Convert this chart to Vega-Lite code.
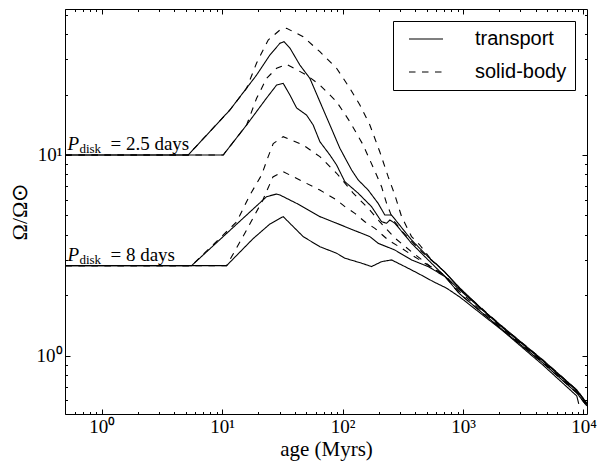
{
  "$schema": "https://vega.github.io/schema/vega-lite/v6.json",
  "width": 522,
  "height": 405,
  "autosize": {"type": "none"},
  "padding": {"left": 65, "top": 9, "right": 10, "bottom": 48},
  "background": "white",
  "config": {
    "view": {"stroke": null},
    "axis": {
      "grid": false,
      "domainColor": "black",
      "domainWidth": 1,
      "tickColor": "black",
      "tickWidth": 1,
      "labelFont": "Liberation Serif",
      "labelFontSize": 19,
      "labelColor": "black",
      "labelOverlap": false,
      "labelFlush": false,
      "labelBound": false,
      "titleFont": "Liberation Serif",
      "titleFontSize": 20,
      "titleFontWeight": "normal",
      "titleColor": "black"
    }
  },
  "datasets": {
    "curves": [
      {"c":"A","m":"transport","t":0.5,"w":10},{"c":"A","m":"transport","t":5.23,"w":10},{"c":"A","m":"transport","t":11.6,"w":16.76},{"c":"A","m":"transport","t":19.33,"w":25.03},{"c":"A","m":"transport","t":24.93,"w":31.5},{"c":"A","m":"transport","t":30.18,"w":36.03},{"c":"A","m":"transport","t":32.6,"w":36.7},{"c":"A","m":"transport","t":36.53,"w":34.13},{"c":"A","m":"transport","t":44.2,"w":28.08},{"c":"A","m":"transport","t":53.5,"w":24.11},{"c":"A","m":"transport","t":64.8,"w":18.44},{"c":"A","m":"transport","t":78.5,"w":14.11},{"c":"A","m":"transport","t":95,"w":10.8},{"c":"A","m":"transport","t":118.8,"w":8.42},{"c":"A","m":"transport","t":134.8,"w":7.51},{"c":"A","m":"transport","t":163.1,"w":6.69},{"c":"A","m":"transport","t":197.4,"w":5.74},{"c":"A","m":"transport","t":224.4,"w":5.02},{"c":"A","m":"transport","t":255,"w":5.02},{"c":"A","m":"transport","t":289.3,"w":4.57},{"c":"A","m":"transport","t":373.8,"w":3.77},{"c":"A","m":"transport","t":513.2,"w":3.11},{"c":"A","m":"transport","t":706.3,"w":2.61},{"c":"A","m":"transport","t":940,"w":2.175},{"c":"A","m":"transport","t":1460,"w":1.69},{"c":"A","m":"transport","t":2140,"w":1.39},{"c":"A","m":"transport","t":4595,"w":0.952},{"c":"A","m":"transport","t":8800,"w":0.675},{"c":"A","m":"transport","t":10650,"w":0.581},
      {"c":"B","m":"transport","t":0.5,"w":10},{"c":"B","m":"transport","t":10.21,"w":10},{"c":"B","m":"transport","t":15.97,"w":14.11},{"c":"B","m":"transport","t":23.4,"w":19.23},{"c":"B","m":"transport","t":28.34,"w":22.32},{"c":"B","m":"transport","t":32.14,"w":22.76},{"c":"B","m":"transport","t":36.53,"w":19.91},{"c":"B","m":"transport","t":41.53,"w":17.15},{"c":"B","m":"transport","t":50.2,"w":15.82},{"c":"B","m":"transport","t":57,"w":14.11},{"c":"B","m":"transport","t":64.8,"w":11.65},{"c":"B","m":"transport","t":78.5,"w":10},{"c":"B","m":"transport","t":89.2,"w":8.92},{"c":"B","m":"transport","t":104.5,"w":7.36},{"c":"B","m":"transport","t":134.8,"w":6.45},{"c":"B","m":"transport","t":174,"w":5.53},{"c":"B","m":"transport","t":210.8,"w":4.65},{"c":"B","m":"transport","t":232,"w":4.57},{"c":"B","m":"transport","t":247,"w":4.74},{"c":"B","m":"transport","t":271.7,"w":4.57},{"c":"B","m":"transport","t":373.8,"w":3.63},{"c":"B","m":"transport","t":513.2,"w":3.0},{"c":"B","m":"transport","t":663,"w":2.58},{"c":"B","m":"transport","t":940,"w":2.125},{"c":"B","m":"transport","t":2140,"w":1.374},{"c":"B","m":"transport","t":4595,"w":0.941},{"c":"B","m":"transport","t":8800,"w":0.668},{"c":"B","m":"transport","t":10650,"w":0.575},
      {"c":"C","m":"solid-body","t":0.5,"w":10},{"c":"C","m":"solid-body","t":5.23,"w":10},{"c":"C","m":"solid-body","t":11.6,"w":16.76},{"c":"C","m":"solid-body","t":15.97,"w":21.49},{"c":"C","m":"solid-body","t":19.33,"w":28.73},{"c":"C","m":"solid-body","t":24.13,"w":37.41},{"c":"C","m":"solid-body","t":30.18,"w":41.96},{"c":"C","m":"solid-body","t":34.3,"w":42.8},{"c":"C","m":"solid-body","t":47.1,"w":38.86},{"c":"C","m":"solid-body","t":64.8,"w":32.71},{"c":"C","m":"solid-body","t":89.2,"w":27.04},{"c":"C","m":"solid-body","t":115,"w":21.49},{"c":"C","m":"solid-body","t":139.2,"w":17.75},{"c":"C","m":"solid-body","t":168.5,"w":14.11},{"c":"C","m":"solid-body","t":204,"w":10.35},{"c":"C","m":"solid-body","t":239,"w":7.8},{"c":"C","m":"solid-body","t":271.7,"w":6.32},{"c":"C","m":"solid-body","t":309,"w":4.93},{"c":"C","m":"solid-body","t":373.8,"w":3.92},{"c":"C","m":"solid-body","t":438,"w":3.56},{"c":"C","m":"solid-body","t":530,"w":3.07},{"c":"C","m":"solid-body","t":706,"w":2.61},{"c":"C","m":"solid-body","t":940,"w":2.15},{"c":"C","m":"solid-body","t":2140,"w":1.39},{"c":"C","m":"solid-body","t":4595,"w":0.952},{"c":"C","m":"solid-body","t":8800,"w":0.675},{"c":"C","m":"solid-body","t":10650,"w":0.581},
      {"c":"D","m":"solid-body","t":0.5,"w":10},{"c":"D","m":"solid-body","t":10.21,"w":10},{"c":"D","m":"solid-body","t":15.97,"w":14.11},{"c":"D","m":"solid-body","t":19.33,"w":19.16},{"c":"D","m":"solid-body","t":23.4,"w":24.11},{"c":"D","m":"solid-body","t":28.34,"w":27.04},{"c":"D","m":"solid-body","t":34.3,"w":28.31},{"c":"D","m":"solid-body","t":50.2,"w":25.03},{"c":"D","m":"solid-body","t":64.8,"w":22.32},{"c":"D","m":"solid-body","t":89.2,"w":18.44},{"c":"D","m":"solid-body","t":115,"w":14.65},{"c":"D","m":"solid-body","t":148.3,"w":11.21},{"c":"D","m":"solid-body","t":168.5,"w":9.44},{"c":"D","m":"solid-body","t":191.5,"w":7.95},{"c":"D","m":"solid-body","t":210.8,"w":6.95},{"c":"D","m":"solid-body","t":232,"w":5.74},{"c":"D","m":"solid-body","t":263,"w":4.74},{"c":"D","m":"solid-body","t":316.5,"w":4.13},{"c":"D","m":"solid-body","t":438,"w":3.36},{"c":"D","m":"solid-body","t":706,"w":2.61},{"c":"D","m":"solid-body","t":940,"w":2.15},{"c":"D","m":"solid-body","t":2140,"w":1.374},{"c":"D","m":"solid-body","t":4595,"w":0.941},{"c":"D","m":"solid-body","t":8800,"w":0.668},{"c":"D","m":"solid-body","t":10650,"w":0.575},
      {"c":"E","m":"solid-body","t":0.5,"w":2.81},{"c":"E","m":"solid-body","t":5.58,"w":2.81},{"c":"E","m":"solid-body","t":13.19,"w":4.64},{"c":"E","m":"solid-body","t":17.01,"w":6.32},{"c":"E","m":"solid-body","t":21.27,"w":7.95},{"c":"E","m":"solid-body","t":24.13,"w":9.81},{"c":"E","m":"solid-body","t":26.56,"w":11.4},{"c":"E","m":"solid-body","t":32.14,"w":12.34},{"c":"E","m":"solid-body","t":47.1,"w":11.21},{"c":"E","m":"solid-body","t":64.8,"w":9.81},{"c":"E","m":"solid-body","t":89.2,"w":8.11},{"c":"E","m":"solid-body","t":122.5,"w":6.45},{"c":"E","m":"solid-body","t":168.5,"w":5.32},{"c":"E","m":"solid-body","t":204,"w":4.64},{"c":"E","m":"solid-body","t":271.7,"w":3.86},{"c":"E","m":"solid-body","t":373.8,"w":3.29},{"c":"E","m":"solid-body","t":530,"w":2.8},{"c":"E","m":"solid-body","t":706,"w":2.52},{"c":"E","m":"solid-body","t":940,"w":2.08},{"c":"E","m":"solid-body","t":2140,"w":1.36},{"c":"E","m":"solid-body","t":4595,"w":0.93},{"c":"E","m":"solid-body","t":8800,"w":0.659},{"c":"E","m":"solid-body","t":10650,"w":0.568},
      {"c":"F","m":"transport","t":0.5,"w":2.81},{"c":"F","m":"transport","t":5.58,"w":2.81},{"c":"F","m":"transport","t":23.4,"w":6.2},{"c":"F","m":"transport","t":28.34,"w":6.39},{"c":"F","m":"transport","t":30.18,"w":6.32},{"c":"F","m":"transport","t":41.53,"w":5.74},{"c":"F","m":"transport","t":64.8,"w":4.93},{"c":"F","m":"transport","t":89.2,"w":4.57},{"c":"F","m":"transport","t":122.5,"w":4.23},{"c":"F","m":"transport","t":168.5,"w":3.92},{"c":"F","m":"transport","t":197.4,"w":3.63},{"c":"F","m":"transport","t":271.7,"w":3.36},{"c":"F","m":"transport","t":373.8,"w":3.0},{"c":"F","m":"transport","t":513.2,"w":2.78},{"c":"F","m":"transport","t":706,"w":2.48},{"c":"F","m":"transport","t":940,"w":2.03},{"c":"F","m":"transport","t":2140,"w":1.34},{"c":"F","m":"transport","t":4595,"w":0.92},{"c":"F","m":"transport","t":8800,"w":0.652},{"c":"F","m":"transport","t":10650,"w":0.562},
      {"c":"G","m":"solid-body","t":0.5,"w":2.81},{"c":"G","m":"solid-body","t":10.9,"w":2.81},{"c":"G","m":"solid-body","t":15.97,"w":4.23},{"c":"G","m":"solid-body","t":21.8,"w":5.97},{"c":"G","m":"solid-body","t":26.4,"w":7.77},{"c":"G","m":"solid-body","t":32.14,"w":8.26},{"c":"G","m":"solid-body","t":47.1,"w":7.36},{"c":"G","m":"solid-body","t":64.8,"w":6.69},{"c":"G","m":"solid-body","t":89.2,"w":5.97},{"c":"G","m":"solid-body","t":104.5,"w":5.53},{"c":"G","m":"solid-body","t":126.5,"w":5.12},{"c":"G","m":"solid-body","t":153.1,"w":4.65},{"c":"G","m":"solid-body","t":185.4,"w":4.31},{"c":"G","m":"solid-body","t":239,"w":3.77},{"c":"G","m":"solid-body","t":309,"w":3.43},{"c":"G","m":"solid-body","t":373.8,"w":3.18},{"c":"G","m":"solid-body","t":482,"w":2.89},{"c":"G","m":"solid-body","t":706,"w":2.5},{"c":"G","m":"solid-body","t":940,"w":2.03},{"c":"G","m":"solid-body","t":2140,"w":1.34},{"c":"G","m":"solid-body","t":4595,"w":0.92},{"c":"G","m":"solid-body","t":8800,"w":0.652},{"c":"G","m":"solid-body","t":10650,"w":0.562},
      {"c":"H","m":"transport","t":0.5,"w":2.81},{"c":"H","m":"transport","t":10.9,"w":2.81},{"c":"H","m":"transport","t":18,"w":3.82},{"c":"H","m":"transport","t":24.93,"w":4.53},{"c":"H","m":"transport","t":32.14,"w":4.93},{"c":"H","m":"transport","t":47.1,"w":3.92},{"c":"H","m":"transport","t":64.8,"w":3.49},{"c":"H","m":"transport","t":89.2,"w":3.24},{"c":"H","m":"transport","t":104.5,"w":3.06},{"c":"H","m":"transport","t":143.8,"w":2.89},{"c":"H","m":"transport","t":174,"w":2.78},{"c":"H","m":"transport","t":210.8,"w":2.94},{"c":"H","m":"transport","t":255,"w":3.0},{"c":"H","m":"transport","t":328.9,"w":2.78},{"c":"H","m":"transport","t":424,"w":2.57},{"c":"H","m":"transport","t":565,"w":2.34},{"c":"H","m":"transport","t":730,"w":2.17},{"c":"H","m":"transport","t":940,"w":1.96},{"c":"H","m":"transport","t":2140,"w":1.33},{"c":"H","m":"transport","t":4595,"w":0.899},{"c":"H","m":"transport","t":8800,"w":0.63},{"c":"H","m":"transport","t":9140,"w":0.575}
    ],
    "labels": [
      {"t": 0.5, "w": 10, "p": "P", "sub": "disk", "rest": "= 2.5 days"},
      {"t": 0.5, "w": 2.81, "p": "P", "sub": "disk", "rest": "= 8 days"}
    ]
  },
  "resolve": {"axis": {"x": "independent", "y": "independent"}},
  "layer": [
    {
      "data": {"name": "curves"},
      "mark": {"type": "line", "color": "black", "strokeWidth": 1.1, "clip": true},
      "encoding": {
        "x": {
          "field": "t", "type": "quantitative",
          "scale": {"type": "log", "domain": [0.496, 10700], "nice": false},
          "axis": {
            "orient": "bottom",
            "values": [0.5,0.6,0.7,0.8,0.9,1,2,3,4,5,6,7,8,9,10,20,30,40,50,60,70,80,90,100,200,300,400,500,600,700,800,900,1000,2000,3000,4000,5000,6000,7000,8000,9000,10000],
            "labelExpr": "datum.value == 1 ? '10⁰' : datum.value == 10 ? '10¹' : datum.value == 100 ? '10²' : datum.value == 1000 ? '10³' : datum.value == 10000 ? '10⁴' : ''",
            "tickSize": {"condition": {"test": "datum.value == 1 || datum.value == 10 || datum.value == 100 || datum.value == 1000 || datum.value == 10000", "value": -5}, "value": -2.5},
            "labelPadding": 8,
            "title": "age (Myrs)",
            "titleFontSize": 21,
            "titlePadding": 0
          }
        },
        "y": {
          "field": "w", "type": "quantitative",
          "scale": {"type": "log", "domain": [0.512, 53.4], "nice": false},
          "axis": {
            "orient": "left",
            "values": [0.6,0.7,0.8,0.9,1,2,3,4,5,6,7,8,9,10,20,30,40,50],
            "labelExpr": "datum.value == 1 ? '10⁰' : datum.value == 10 ? '10¹' : ''",
            "tickSize": {"condition": {"test": "datum.value == 1 || datum.value == 10", "value": -5}, "value": -2.5},
            "labelPadding": 8,
            "title": "Ω/Ω⊙",
            "titleFontSize": 22,
            "titlePadding": 5
          }
        },
        "detail": {"field": "c", "type": "nominal"},
        "strokeDash": {
          "field": "m", "type": "nominal",
          "scale": {"domain": ["transport", "solid-body"], "range": [[1, 0], [6.5, 6.5]]},
          "legend": {
            "orient": "none",
            "legendX": 328,
            "legendY": 12,
            "title": null,
            "direction": "vertical",
            "strokeColor": "black",
            "fillColor": "white",
            "padding": 8,
            "cornerRadius": 0,
            "symbolType": "stroke",
            "symbolSize": 1156,
            "symbolStrokeWidth": 1.1,
            "symbolStrokeColor": "black",
            "symbolOffset": 7,
            "labelOffset": 31,
            "labelFont": "Liberation Sans",
            "labelFontSize": 20,
            "labelColor": "black",
            "labelLimit": 0,
            "rowPadding": 13,
            "clipHeight": 20,
            "labelExpr": "datum.label + '  '"
          }
        }
      }
    },
    {
      "data": {"name": "curves"},
      "mark": {"type": "line", "opacity": 0},
      "encoding": {
        "x": {
          "field": "t", "type": "quantitative",
          "scale": {"type": "log", "domain": [0.496, 10700], "nice": false},
          "axis": {
            "orient": "top",
            "values": [0.5,0.6,0.7,0.8,0.9,1,2,3,4,5,6,7,8,9,10,20,30,40,50,60,70,80,90,100,200,300,400,500,600,700,800,900,1000,2000,3000,4000,5000,6000,7000,8000,9000,10000],
            "labels": false,
            "tickSize": {"condition": {"test": "datum.value == 1 || datum.value == 10 || datum.value == 100 || datum.value == 1000 || datum.value == 10000", "value": -5}, "value": -2.5},
            "title": null
          }
        },
        "y": {
          "field": "w", "type": "quantitative",
          "scale": {"type": "log", "domain": [0.512, 53.4], "nice": false},
          "axis": {
            "orient": "right",
            "values": [0.6,0.7,0.8,0.9,1,2,3,4,5,6,7,8,9,10,20,30,40,50],
            "labels": false,
            "tickSize": {"condition": {"test": "datum.value == 1 || datum.value == 10", "value": -5}, "value": -2.5},
            "title": null
          }
        },
        "detail": {"field": "c", "type": "nominal"}
      }
    },
    {
      "data": {"name": "labels"},
      "mark": {"type": "text", "font": "Liberation Serif", "fontSize": 19, "fontStyle": "italic", "align": "left", "baseline": "alphabetic", "dx": 2, "dy": -5, "color": "black"},
      "encoding": {
        "x": {"field": "t", "type": "quantitative", "scale": {"type": "log", "domain": [0.496, 10700], "nice": false}, "axis": null},
        "y": {"field": "w", "type": "quantitative", "scale": {"type": "log", "domain": [0.512, 53.4], "nice": false}, "axis": null},
        "text": {"field": "p"}
      }
    },
    {
      "data": {"name": "labels"},
      "mark": {"type": "text", "font": "Liberation Serif", "fontSize": 13, "align": "left", "baseline": "alphabetic", "dx": 14, "dy": -2, "color": "black"},
      "encoding": {
        "x": {"field": "t", "type": "quantitative", "scale": {"type": "log", "domain": [0.496, 10700], "nice": false}, "axis": null},
        "y": {"field": "w", "type": "quantitative", "scale": {"type": "log", "domain": [0.512, 53.4], "nice": false}, "axis": null},
        "text": {"field": "sub"}
      }
    },
    {
      "data": {"name": "labels"},
      "mark": {"type": "text", "font": "Liberation Serif", "fontSize": 19, "align": "left", "baseline": "alphabetic", "dx": 45, "dy": -5, "color": "black"},
      "encoding": {
        "x": {"field": "t", "type": "quantitative", "scale": {"type": "log", "domain": [0.496, 10700], "nice": false}, "axis": null},
        "y": {"field": "w", "type": "quantitative", "scale": {"type": "log", "domain": [0.512, 53.4], "nice": false}, "axis": null},
        "text": {"field": "rest"}
      }
    }
  ]
}
